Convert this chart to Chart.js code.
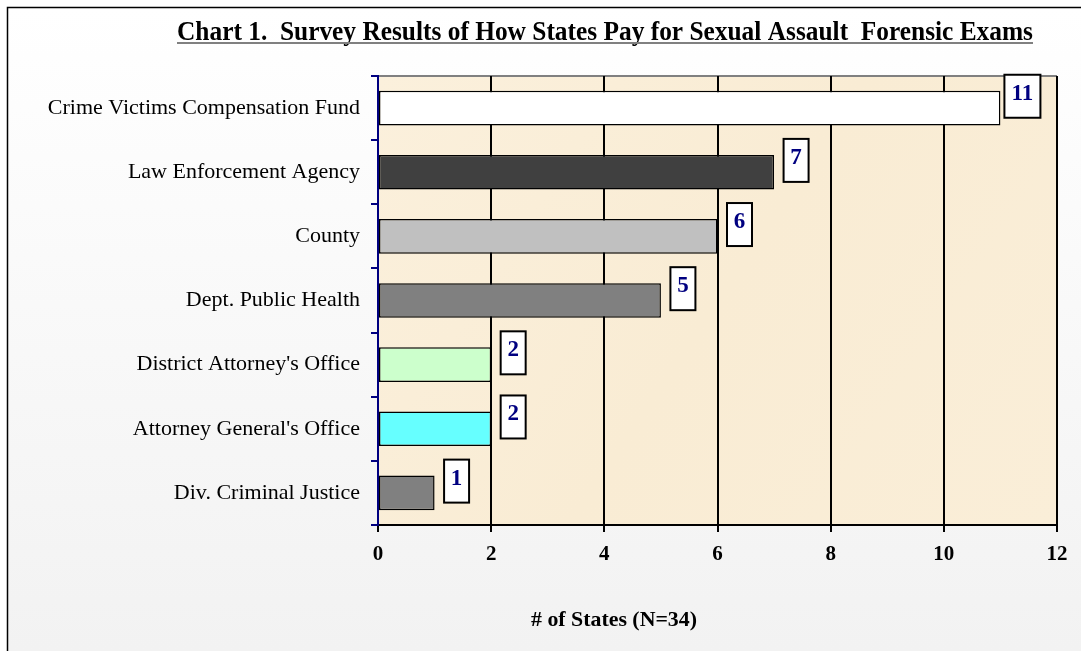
<!DOCTYPE html>
<html>
<head>
<meta charset="utf-8">
<script src="https://cdn.jsdelivr.net/npm/chart.js@4.4.1/dist/chart.umd.min.js"></script>
<style>
  html, body { margin: 0; padding: 0; background: #ffffff; }
  #wrap { position: absolute; left: 0; top: 0; width: 1081px; height: 651px; }
</style>
</head>
<body>
<div id="wrap"><canvas id="c" width="1081" height="651"></canvas></div>
<script>
const chartTitle = "Chart 1.  Survey Results of How States Pay for Sexual Assault  Forensic Exams";
const categories = [
  "Crime Victims Compensation Fund",
  "Law Enforcement Agency",
  "County",
  "Dept. Public Health",
  "District Attorney's Office",
  "Attorney General's Office",
  "Div. Criminal Justice"
];
const stateCounts = [11, 7, 6, 5, 2, 2, 1];
const barColors = ["#ffffff", "#404040", "#c0c0c0", "#808080", "#ccffcc", "#66ffff", "#808080"];
const xTicks = [0, 2, 4, 6, 8, 10, 12];
const xAxisTitle = "# of States (N=34)";

const SERIF = "'Liberation Serif', 'Times New Roman', serif";

function drawFitted(ctx, text, x, baseline, targetW, align) {
  const w = ctx.measureText(text).width;
  const sx = targetW / w;
  ctx.save();
  ctx.translate(x, baseline);
  ctx.scale(sx, 1);
  ctx.textAlign = align;
  ctx.fillText(text, 0, 0);
  ctx.restore();
}

const frame = {
  id: 'frame',
  beforeDraw(chart) {
    const ctx = chart.ctx;
    ctx.save();
    const g = ctx.createLinearGradient(0, 8, 0, 651);
    g.addColorStop(0, '#ffffff');
    g.addColorStop(1, '#f2f2f2');
    ctx.fillStyle = g;
    ctx.fillRect(8, 8, 1081 - 8, 651 - 8);
    ctx.strokeStyle = '#000';
    ctx.lineWidth = 1.5;
    ctx.beginPath();
    ctx.moveTo(7.5, 651);
    ctx.lineTo(7.5, 7.5);
    ctx.lineTo(1081, 7.5);
    ctx.stroke();
    // plot background
    const a = chart.chartArea;
    const pg = ctx.createLinearGradient(a.left, a.top, a.right, a.bottom);
    pg.addColorStop(0, '#fbf0dc');
    pg.addColorStop(0.5, '#f9ecd4');
    pg.addColorStop(1, '#faeed8');
    ctx.fillStyle = pg;
    ctx.fillRect(a.left, a.top, a.right - a.left, a.bottom - a.top);
    ctx.strokeStyle = '#808080';
    ctx.lineWidth = 2;
    ctx.beginPath();
    ctx.moveTo(a.left, a.top);
    ctx.lineTo(a.right, a.top);
    ctx.stroke();
    // title
    ctx.font = "bold 27px " + SERIF;
    ctx.fillStyle = '#000';
    ctx.textBaseline = 'alphabetic';
    const x0 = 177, base = 40, targetW = 856;
    drawFitted(ctx, chartTitle, x0, base, targetW, 'left');
    ctx.lineWidth = 2;
    ctx.beginPath();
    ctx.moveTo(x0, base + 3);
    ctx.lineTo(x0 + targetW, base + 3);
    ctx.stroke();
    // x axis title
    ctx.font = "bold 21px " + SERIF;
    ctx.textBaseline = 'middle';
    drawFitted(ctx, xAxisTitle, 614, 621, 166, 'center');
    ctx.restore();
  }
};

const valueBoxes = {
  id: 'valueBoxes',
  afterDatasetsDraw(chart) {
    const ctx = chart.ctx;
    const meta = chart.getDatasetMeta(0);
    ctx.save();
    ctx.font = "bold 23px " + SERIF;
    meta.data.forEach((el, i) => {
      const txt = String(stateCounts[i]);
      const bw = txt.length > 1 ? 36 : 25;
      const bh = 43;
      const cx = el.x + 22;
      const top = el.y - el.height / 2 - 16;
      ctx.fillStyle = '#ffffff';
      ctx.fillRect(cx - bw / 2, top, bw, bh);
      ctx.strokeStyle = '#000';
      ctx.lineWidth = 2;
      ctx.strokeRect(cx - bw / 2, top, bw, bh);
      ctx.fillStyle = '#000080';
      ctx.textAlign = 'center';
      ctx.textBaseline = 'middle';
      ctx.fillText(txt, cx, top + 19);
    });
    ctx.restore();
  }
};

new Chart(document.getElementById('c'), {
  type: 'bar',
  data: {
    labels: categories,
    datasets: [{
      data: stateCounts,
      backgroundColor: barColors,
      borderColor: '#000000',
      borderWidth: 1.5,
      borderSkipped: false,
      categoryPercentage: 1,
      barPercentage: 0.54
    }]
  },
  options: {
    indexAxis: 'y',
    responsive: false,
    animation: false,
    events: [],
    layout: { padding: { top: 76, right: 24, left: 0, bottom: 0 } },
    plugins: {
      legend: { display: false },
      tooltip: { enabled: false },
      title: { display: false }
    },
    scales: {
      x: {
        min: 0, max: 12,
        afterBuildTicks(scale) { scale.ticks = xTicks.map(v => ({ value: v })); },
        afterFit(scale) { scale.height = 651 - 525; },
        grid: {
          color: '#000000', lineWidth: 2, tickLength: 7,
          drawOnChartArea: true
        },
        border: { color: '#000000', width: 2 },
        ticks: {
          padding: 10,
          color: '#000',
          font: { family: SERIF, size: 21, weight: 'bold' }
        },
        title: { display: false }
      },
      y: {
        afterFit(scale) { scale.width = 378; },
        grid: {
          color: '#000080', lineWidth: 2, tickLength: 7,
          drawOnChartArea: false, offset: true
        },
        border: { color: '#000080', width: 2 },
        ticks: {
          padding: 11,
          color: '#000',
          font: { family: SERIF, size: 22 }
        }
      }
    }
  },
  plugins: [frame, valueBoxes]
});
</script>
</body>
</html>
